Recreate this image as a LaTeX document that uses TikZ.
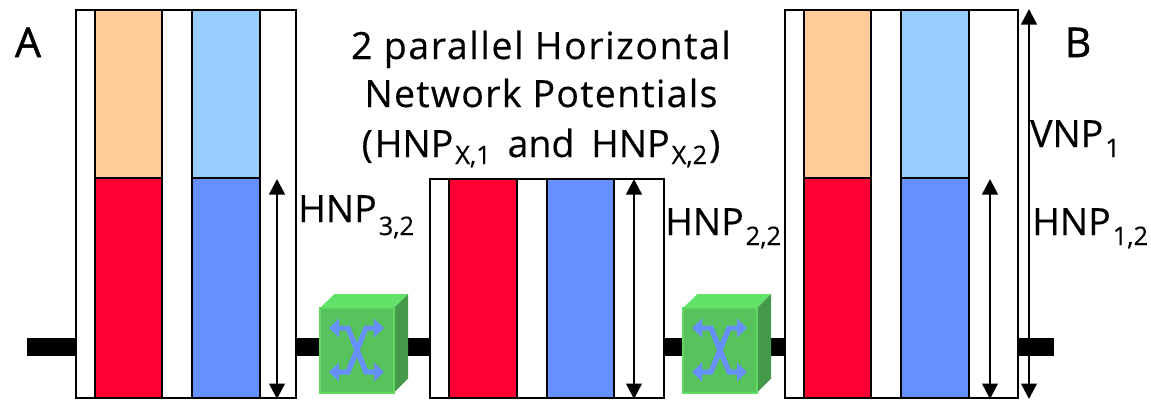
\documentclass[tikz,border=0pt]{standalone}
\usepackage{fontspec}
\setmainfont[FakeBold=0.4]{Open Sans}
\newfontfamily\heavyfont[FakeBold=1.2]{Open Sans}
\usetikzlibrary{arrows.meta}
\definecolor{orangeC}{HTML}{FFCC99}
\definecolor{redC}{HTML}{FF0033}
\definecolor{lblueC}{HTML}{99CCFF}
\definecolor{blueC}{HTML}{6690FF}
\definecolor{swFront}{HTML}{58C25C}
\definecolor{swTop}{HTML}{62E268}
\definecolor{swSide}{HTML}{459A4A}
\newcommand{\subt}[2]{\kern2pt\raisebox{-#1pt}{\fontsize{25.5}{25.5}\selectfont #2}}
\newcommand{\spaced}[2]{{\addfontfeature{LetterSpace=#1}#2}}
\tikzset{
  outer/.style={draw=black,line width=2.4pt,fill=white,inner sep=0pt,outer sep=0pt,anchor=north west},
  bar/.style={draw=black,line width=2.4pt,inner sep=0pt,outer sep=0pt,anchor=north west},
  dim/.style={line width=2.6pt,{Triangle[width=15.5pt,length=15.5pt]}-{Triangle[width=15.5pt,length=15.5pt]},shorten >=-1pt,shorten <=-1pt},
  lbl/.style={font=\fontsize{37.5}{48}\selectfont,inner sep=0pt,text=black},
  letter/.style={font=\heavyfont\fontsize{41}{48}\selectfont,inner sep=0pt,text=black},
  link/.style={line width=18.5pt,black},
  xarrow/.style={draw=blueC,line width=5pt,-{Triangle[width=18pt,length=10pt]},line join=miter},
}
\begin{document}
\begin{tikzpicture}[x=1pt,y=-1pt]
\useasboundingbox (0,0) rectangle (1151,400);
% link
\coordinate (linkL) at (27,347);
\coordinate (linkR) at (1054,347);
\draw[link] (linkL) -- (linkR);
% boxes
\node[outer,minimum width=220pt,minimum height=388pt] (boxA) at (76,10) {};
\node[outer,minimum width=234pt,minimum height=219pt] (boxM) at (430,179) {};
\node[outer,minimum width=233pt,minimum height=388pt] (boxB) at (785,10) {};
% A bars
\node[bar,fill=orangeC,minimum width=67pt,minimum height=168pt] (aO) at (95,10) {};
\node[bar,fill=redC,minimum width=67pt,minimum height=220pt] (aR) at (95,178) {};
\node[bar,fill=lblueC,minimum width=68pt,minimum height=168pt] (aL) at (192,10) {};
\node[bar,fill=blueC,minimum width=68pt,minimum height=220pt] (aB) at (192,178) {};
% M bars
\node[bar,fill=redC,minimum width=68pt,minimum height=219pt] (mR) at (449,179) {};
\node[bar,fill=blueC,minimum width=67pt,minimum height=219pt] (mB) at (547,179) {};
% B bars
\node[bar,fill=orangeC,minimum width=67pt,minimum height=168pt] (bO) at (804,10) {};
\node[bar,fill=redC,minimum width=67pt,minimum height=220pt] (bR) at (804,178) {};
\node[bar,fill=lblueC,minimum width=68pt,minimum height=168pt] (bL) at (901,10) {};
\node[bar,fill=blueC,minimum width=68pt,minimum height=220pt] (bB) at (901,178) {};
% dimension arrows
\coordinate (d1t) at (277,180); \coordinate (d1b) at (277,398);
\coordinate (d2t) at (634,180); \coordinate (d2b) at (634,398);
\coordinate (d3t) at (990,180); \coordinate (d3b) at (990,398);
\coordinate (d4t) at (1029,10); \coordinate (d4b) at (1029,398);
\draw[dim] (d1t) -- (d1b);
\draw[dim] (d2t) -- (d2b);
\draw[dim] (d3t) -- (d3b);
\draw[dim] (d4t) -- (d4b);
% switches
\foreach \n/\xo in {swa/320,swb/683}{
\begin{scope}[shift={(\xo,0)}]
  \fill[swTop] (0,308) -- (14.5,294) -- (88,294) -- (74,308) -- cycle;
  \fill[swSide] (74,308) -- (88,294) -- (88,378.5) -- (74,392.5) -- cycle;
  \node[fill=swFront,draw=swTop!70!swFront,line width=1.2pt,minimum width=74pt,minimum height=85pt,inner sep=0pt,outer sep=0pt,anchor=north west] (\n) at (0,308) {};
  \coordinate (\n a) at (28,328); \coordinate (\n b) at (46,328);
  \coordinate (\n d) at (28,372); \coordinate (\n e) at (46,372);
  \coordinate (\n tl) at (9,328); \coordinate (\n tr) at (64,328);
  \coordinate (\n bl) at (9,372); \coordinate (\n br) at (64,372);
  \draw[xarrow] (\n e) -- (\n a) -- (\n tl);
  \draw[xarrow] (\n d) -- (\n b) -- (\n tr);
  \draw[xarrow] (\n a) -- (\n e) -- (\n br);
  \draw[xarrow] (\n b) -- (\n d) -- (\n bl);
\end{scope}}
% labels
\node[letter,anchor=base] (lA) at (28,57) {A};
\node[letter,anchor=base] (lB) at (1078,57) {B};
\node[lbl,align=center,anchor=base] (title) at (541,157) {\spaced{4.2}{2 parallel Horizontal}\\\spaced{3.4}{Network Potentials}\\[2pt](\kern2pt HNP\subt{7}{X,1}\kern7pt\ and\ \kern7pt HNP\subt{7}{X,2}\kern2pt)};
\node[lbl,anchor=base west] (h32) at (298,222) {HNP\subt{13}{3,2}};
\node[lbl,anchor=base west] (h22) at (665,235) {HNP\subt{10}{2,2}};
\node[lbl,anchor=base west] (h12) at (1032,235) {HNP\subt{10}{1,2}};
\node[lbl,anchor=base west] (v1) at (1030,147) {VNP\subt{10}{1}};
\end{tikzpicture}
\end{document}
